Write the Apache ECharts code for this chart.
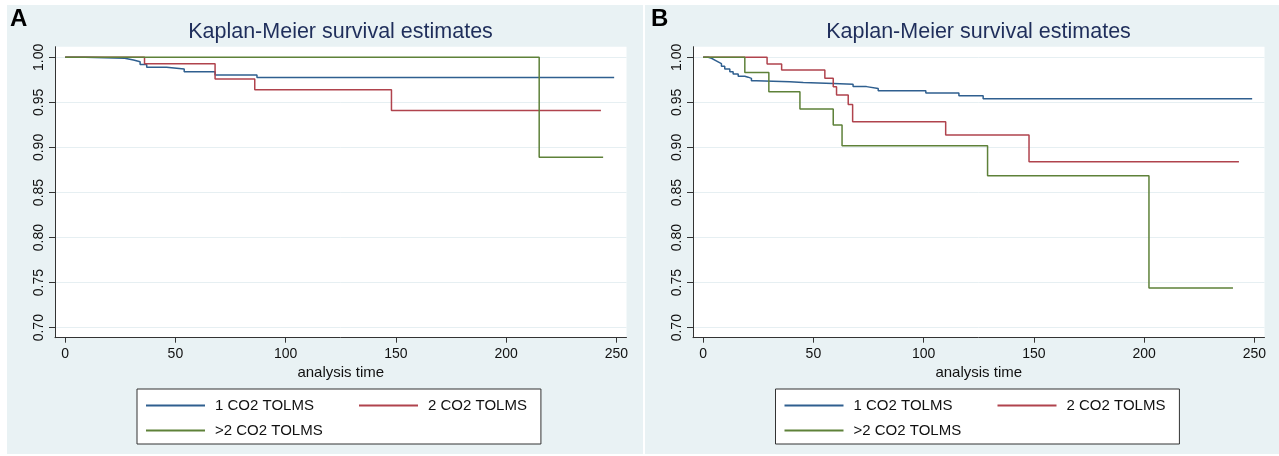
<!DOCTYPE html>
<html>
<head>
<meta charset="utf-8">
<title>Kaplan-Meier survival estimates</title>
<style>
    html, body {margin:0;padding:0;background:#fff;}
    #km {width:1279px;height:456px;}
</style>
</head>
<body>
<div id="km"></div>
<script src="https://cdn.jsdelivr.net/npm/echarts@6/dist/echarts.min.js"></script>
<script>
var groupNames = ['1 CO2 TOLMS', '2 CO2 TOLMS', '>2 CO2 TOLMS'];
var groupColors = ['#2f5f8f', '#b0434d', '#5e8139'];
var xTicks = [0, 50, 100, 150, 200, 250];
var yTicks = [0.70, 0.75, 0.80, 0.85, 0.90, 0.95, 1.00];

// panel A  (time, survival)
var aBlueT  = [0, 9, 27, 31, 34, 37, 46, 54, 68, 87, 249];
var aBlueS  = [1, 0.999, 0.997, 0.995, 0.992, 0.989, 0.987, 0.984, 0.9805, 0.9775, 0.9775];
var aRedT   = [0, 36, 68, 86, 148, 243];
var aRedS   = [1, 0.993, 0.976, 0.964, 0.941, 0.941];
var aGreenT = [0, 215, 244];
var aGreenS = [1, 0.889, 0.889];

// panel B
var bBlueT  = [0, 2.3, 3.8, 5.3, 6.8, 8.3, 9.8, 12.1, 13.6, 15.9, 18.9, 20.4, 21.9, 24.1, 39.3, 45.4, 59, 68, 74.1, 79.4, 101, 116, 127, 249];
var bBlueS  = [1, 0.999, 0.997, 0.995, 0.993, 0.990, 0.987, 0.984, 0.9815, 0.979, 0.978, 0.9767, 0.974, 0.973, 0.972, 0.971, 0.970, 0.9675, 0.9655, 0.963, 0.9605, 0.9575, 0.954, 0.954];
var bRedT   = [0, 29, 35.6, 55.2, 59, 60.5, 65.8, 67.8, 110, 147.8, 243];
var bRedS   = [1, 0.9926, 0.9859, 0.9767, 0.9674, 0.9582, 0.9478, 0.9285, 0.9138, 0.8841, 0.8841];
var bGreenT = [0, 18.9, 29.8, 43.9, 59, 63, 129, 202.2, 240.3];
var bGreenS = [1, 0.9833, 0.9618, 0.9426, 0.9249, 0.9019, 0.8686, 0.744, 0.744];

var font = "'Liberation Sans', Arial, Helvetica, sans-serif";

function zip(t, s) {
    var out = [];
    for (var i = 0; i < t.length; i++) out.push([t[i], s[i]]);
    return out;
}

function kmSeries(idx, name, t, s) {
    var c = groupColors[groupNames.indexOf(name)];
    return {
        name: name,
        type: 'line',
        step: 'end',
        xAxisIndex: idx,
        yAxisIndex: idx,
        symbol: 'none',
        animation: false,
        lineStyle: {width: 1.5, color: c},
        itemStyle: {color: c},
        data: zip(t, s)
    };
}

function xAx(idx) {
    return {
        gridIndex: idx, type: 'value', min: -4.6, max: 254.6,
        axisLine: {onZero: false, lineStyle: {color: '#333', width: 1}},
        axisTick: {customValues: xTicks, length: 5, lineStyle: {color: '#333'}},
        axisLabel: {customValues: xTicks, fontSize: 14, color: '#111', margin: 9, fontFamily: font},
        splitLine: {show: false},
        name: 'analysis time', nameLocation: 'middle', nameGap: 27,
        nameTextStyle: {fontSize: 15, color: '#111', fontFamily: font}
    };
}

function yAx(idx) {
    return {
        gridIndex: idx, type: 'value', min: 0.6889, max: 1.0118,
        axisLine: {show: true, onZero: false, lineStyle: {color: '#333', width: 1}},
        axisTick: {show: true, customValues: yTicks, length: 6, lineStyle: {color: '#333'}},
        axisLabel: {customValues: yTicks, rotate: 90, fontSize: 14, color: '#111', margin: 9, fontFamily: font,
            formatter: function (v) { return v.toFixed(2); }},
        splitLine: {show: true, lineStyle: {color: '#e6eff2', width: 1}}
    };
}

function legendAt(left) {
    return {
        left: left, top: 389, width: 395, orient: 'horizontal',
        itemGap: 10, itemWidth: 59, itemHeight: 14,
        padding: [9, 14, 6, 8],
        borderColor: '#333', borderWidth: 1, borderRadius: 0, backgroundColor: '#fff',
        itemStyle: {opacity: 0},
        textStyle: {fontSize: 15, color: '#111', lineHeight: 14, padding: [0, 0, 0, 5], fontFamily: font},
        data: [
            {name: groupNames[0], textStyle: {width: 133}},
            groupNames[1],
            {name: groupNames[2], textStyle: {width: 133}}
        ]
    };
}

var titleStyle = {fontSize: 21.5, fontWeight: 'normal', color: '#1f2e5b', fontFamily: font};
var tagStyle = {fontSize: 24, fontWeight: 'bold', color: '#000', fontFamily: font};

var option = {
    backgroundColor: '#fff',
    animation: false,
    graphic: [
        {type: 'rect', left: 7, top: 5, z: -100, silent: true, shape: {width: 636, height: 449}, style: {fill: '#e9f2f4'}},
        {type: 'rect', left: 645, top: 5, z: -100, silent: true, shape: {width: 634, height: 449}, style: {fill: '#e9f2f4'}}
    ],
    title: [
        {text: 'Kaplan-Meier survival estimates', left: 340.5, top: 21, textAlign: 'center', padding: 0, textStyle: titleStyle},
        {text: 'Kaplan-Meier survival estimates', left: 978.5, top: 21, textAlign: 'center', padding: 0, textStyle: titleStyle},
        {text: 'A', left: 10, top: 7, padding: 0, textStyle: tagStyle},
        {text: 'B', left: 651, top: 7, padding: 0, textStyle: tagStyle}
    ],
    grid: [
        {left: 55, top: 46.7, width: 571.5, height: 291, show: true, backgroundColor: '#fff', borderWidth: 0},
        {left: 693, top: 46.7, width: 571.5, height: 291, show: true, backgroundColor: '#fff', borderWidth: 0}
    ],
    xAxis: [xAx(0), xAx(1)],
    yAxis: [yAx(0), yAx(1)],
    legend: [legendAt(137), legendAt(775.5)],
    series: [
        kmSeries(0, groupNames[0], aBlueT, aBlueS),
        kmSeries(0, groupNames[1], aRedT, aRedS),
        kmSeries(0, groupNames[2], aGreenT, aGreenS),
        kmSeries(1, groupNames[0], bBlueT, bBlueS),
        kmSeries(1, groupNames[1], bRedT, bRedS),
        kmSeries(1, groupNames[2], bGreenT, bGreenS)
    ]
};

echarts.init(document.getElementById('km')).setOption(option);
</script>
</body>
</html>
